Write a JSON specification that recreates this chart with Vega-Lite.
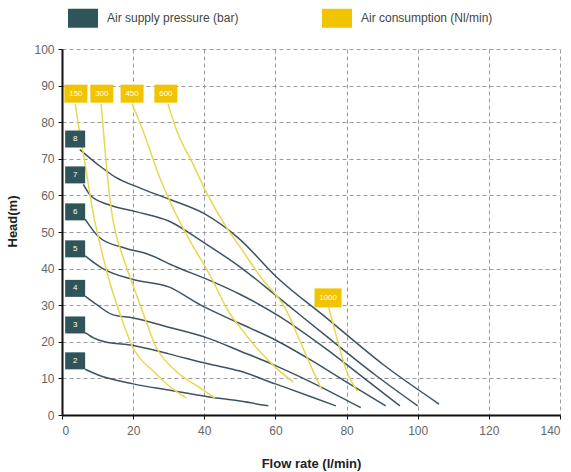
{
  "$schema": "https://vega.github.io/schema/vega-lite/v6.json",
  "width": 498,
  "height": 366,
  "autosize": {"type": "none"},
  "padding": {"left": 62, "top": 49, "right": 11, "bottom": 57},
  "background": "white",
  "config": {
    "font": "Liberation Sans",
    "view": {"stroke": null},
    "axis": {
      "gridColor": "#9a9aa2",
      "gridDash": [4, 3],
      "gridWidth": 1,
      "domainColor": "#111",
      "domainWidth": 2,
      "tickColor": "#111",
      "tickSize": 4,
      "labelColor": "#666",
      "labelFontSize": 12,
      "labelOverlap": false,
      "titleColor": "#222",
      "titleFontSize": 13,
      "titleFontWeight": "bold"
    }
  },
  "datasets": {
    "lines": [
      {"s": "P8", "t": "p", "x": 5, "y": 72.5}, {"s": "P8", "t": "p", "x": 10, "y": 68.5}, {"s": "P8", "t": "p", "x": 15, "y": 65}, {"s": "P8", "t": "p", "x": 22, "y": 62}, {"s": "P8", "t": "p", "x": 30, "y": 59}, {"s": "P8", "t": "p", "x": 40, "y": 55}, {"s": "P8", "t": "p", "x": 50, "y": 48}, {"s": "P8", "t": "p", "x": 60, "y": 38}, {"s": "P8", "t": "p", "x": 75, "y": 26}, {"s": "P8", "t": "p", "x": 90, "y": 14}, {"s": "P8", "t": "p", "x": 106, "y": 3},
      {"s": "P7", "t": "p", "x": 6, "y": 63}, {"s": "P7", "t": "p", "x": 8, "y": 60}, {"s": "P7", "t": "p", "x": 13, "y": 57.5}, {"s": "P7", "t": "p", "x": 21, "y": 55.5}, {"s": "P7", "t": "p", "x": 30, "y": 53}, {"s": "P7", "t": "p", "x": 40, "y": 47}, {"s": "P7", "t": "p", "x": 50, "y": 40.5}, {"s": "P7", "t": "p", "x": 61, "y": 32}, {"s": "P7", "t": "p", "x": 75, "y": 21}, {"s": "P7", "t": "p", "x": 88, "y": 11}, {"s": "P7", "t": "p", "x": 100, "y": 2.5},
      {"s": "P6", "t": "p", "x": 6.5, "y": 53.5}, {"s": "P6", "t": "p", "x": 10.5, "y": 48.5}, {"s": "P6", "t": "p", "x": 18, "y": 45.5}, {"s": "P6", "t": "p", "x": 24, "y": 44}, {"s": "P6", "t": "p", "x": 32, "y": 40.5}, {"s": "P6", "t": "p", "x": 41, "y": 37}, {"s": "P6", "t": "p", "x": 50, "y": 33}, {"s": "P6", "t": "p", "x": 61, "y": 27}, {"s": "P6", "t": "p", "x": 75, "y": 17.5}, {"s": "P6", "t": "p", "x": 85, "y": 10}, {"s": "P6", "t": "p", "x": 95, "y": 2.5},
      {"s": "P5", "t": "p", "x": 6.5, "y": 43.5}, {"s": "P5", "t": "p", "x": 11.5, "y": 40}, {"s": "P5", "t": "p", "x": 20, "y": 37}, {"s": "P5", "t": "p", "x": 30, "y": 35}, {"s": "P5", "t": "p", "x": 39, "y": 30}, {"s": "P5", "t": "p", "x": 50, "y": 25}, {"s": "P5", "t": "p", "x": 60, "y": 20.5}, {"s": "P5", "t": "p", "x": 70, "y": 15}, {"s": "P5", "t": "p", "x": 80, "y": 9}, {"s": "P5", "t": "p", "x": 91, "y": 2.5},
      {"s": "P4", "t": "p", "x": 6.5, "y": 32.5}, {"s": "P4", "t": "p", "x": 10, "y": 30}, {"s": "P4", "t": "p", "x": 14, "y": 27.5}, {"s": "P4", "t": "p", "x": 20, "y": 26.5}, {"s": "P4", "t": "p", "x": 30, "y": 24}, {"s": "P4", "t": "p", "x": 41, "y": 21}, {"s": "P4", "t": "p", "x": 50, "y": 17.5}, {"s": "P4", "t": "p", "x": 60, "y": 13.5}, {"s": "P4", "t": "p", "x": 70, "y": 9}, {"s": "P4", "t": "p", "x": 84, "y": 2},
      {"s": "P3", "t": "p", "x": 6.5, "y": 22.5}, {"s": "P3", "t": "p", "x": 9, "y": 21}, {"s": "P3", "t": "p", "x": 12, "y": 20}, {"s": "P3", "t": "p", "x": 20, "y": 19}, {"s": "P3", "t": "p", "x": 30, "y": 16.7}, {"s": "P3", "t": "p", "x": 41, "y": 14}, {"s": "P3", "t": "p", "x": 50, "y": 12}, {"s": "P3", "t": "p", "x": 60, "y": 8.5}, {"s": "P3", "t": "p", "x": 70, "y": 5}, {"s": "P3", "t": "p", "x": 77, "y": 2.5},
      {"s": "P2", "t": "p", "x": 6.5, "y": 12.5}, {"s": "P2", "t": "p", "x": 10, "y": 11}, {"s": "P2", "t": "p", "x": 20, "y": 8.5}, {"s": "P2", "t": "p", "x": 30, "y": 6.8}, {"s": "P2", "t": "p", "x": 41, "y": 5}, {"s": "P2", "t": "p", "x": 50, "y": 3.8}, {"s": "P2", "t": "p", "x": 58, "y": 2.5},
      {"s": "A150", "t": "a", "x": 3.7, "y": 85}, {"s": "A150", "t": "a", "x": 4.5, "y": 80}, {"s": "A150", "t": "a", "x": 6.5, "y": 68.5}, {"s": "A150", "t": "a", "x": 8.8, "y": 55}, {"s": "A150", "t": "a", "x": 11.6, "y": 43}, {"s": "A150", "t": "a", "x": 13.5, "y": 36}, {"s": "A150", "t": "a", "x": 16.3, "y": 27.6}, {"s": "A150", "t": "a", "x": 20, "y": 18.3}, {"s": "A150", "t": "a", "x": 25.6, "y": 12}, {"s": "A150", "t": "a", "x": 30, "y": 8}, {"s": "A150", "t": "a", "x": 35, "y": 4.6},
      {"s": "A300", "t": "a", "x": 11, "y": 85}, {"s": "A300", "t": "a", "x": 12.3, "y": 70}, {"s": "A300", "t": "a", "x": 13.8, "y": 56.6}, {"s": "A300", "t": "a", "x": 17.2, "y": 43}, {"s": "A300", "t": "a", "x": 19, "y": 38}, {"s": "A300", "t": "a", "x": 22, "y": 30}, {"s": "A300", "t": "a", "x": 26.6, "y": 18.3}, {"s": "A300", "t": "a", "x": 32, "y": 12}, {"s": "A300", "t": "a", "x": 38.8, "y": 7.4}, {"s": "A300", "t": "a", "x": 43, "y": 4.6},
      {"s": "A450", "t": "a", "x": 19.7, "y": 85}, {"s": "A450", "t": "a", "x": 22.8, "y": 77.6}, {"s": "A450", "t": "a", "x": 27.5, "y": 64.8}, {"s": "A450", "t": "a", "x": 31.2, "y": 56.6}, {"s": "A450", "t": "a", "x": 36, "y": 47.5}, {"s": "A450", "t": "a", "x": 41, "y": 39.3}, {"s": "A450", "t": "a", "x": 47, "y": 28}, {"s": "A450", "t": "a", "x": 50, "y": 24}, {"s": "A450", "t": "a", "x": 55, "y": 18}, {"s": "A450", "t": "a", "x": 60, "y": 13}, {"s": "A450", "t": "a", "x": 65, "y": 9},
      {"s": "A600", "t": "a", "x": 29.8, "y": 85}, {"s": "A600", "t": "a", "x": 32.3, "y": 77.6}, {"s": "A600", "t": "a", "x": 36.8, "y": 68.6}, {"s": "A600", "t": "a", "x": 40.8, "y": 60.4}, {"s": "A600", "t": "a", "x": 46.4, "y": 51}, {"s": "A600", "t": "a", "x": 50, "y": 46}, {"s": "A600", "t": "a", "x": 55.6, "y": 38}, {"s": "A600", "t": "a", "x": 63.2, "y": 28.4}, {"s": "A600", "t": "a", "x": 67, "y": 20}, {"s": "A600", "t": "a", "x": 70.6, "y": 12}, {"s": "A600", "t": "a", "x": 73, "y": 7},
      {"s": "A1000", "t": "a", "x": 74.8, "y": 30}, {"s": "A1000", "t": "a", "x": 77, "y": 22}, {"s": "A1000", "t": "a", "x": 80, "y": 12}, {"s": "A1000", "t": "a", "x": 83, "y": 6.5}
    ],
    "boxes": [
      {"legend": "Air supply pressure (bar)", "kind": "p", "label": "8", "x": 3.7, "y": 75.4},
      {"legend": "Air supply pressure (bar)", "kind": "p", "label": "7", "x": 3.7, "y": 65.6},
      {"legend": "Air supply pressure (bar)", "kind": "p", "label": "6", "x": 3.7, "y": 55.5},
      {"legend": "Air supply pressure (bar)", "kind": "p", "label": "5", "x": 3.7, "y": 45.4},
      {"legend": "Air supply pressure (bar)", "kind": "p", "label": "4", "x": 3.7, "y": 34.6},
      {"legend": "Air supply pressure (bar)", "kind": "p", "label": "3", "x": 3.7, "y": 24.6},
      {"legend": "Air supply pressure (bar)", "kind": "p", "label": "2", "x": 3.7, "y": 14.8},
      {"legend": "Air consumption (Nl/min)", "kind": "a", "label": "150", "x": 3.9, "y": 87.8},
      {"legend": "Air consumption (Nl/min)", "kind": "a", "label": "300", "x": 11.2, "y": 87.8},
      {"legend": "Air consumption (Nl/min)", "kind": "a", "label": "450", "x": 19.7, "y": 87.8},
      {"legend": "Air consumption (Nl/min)", "kind": "a", "label": "600", "x": 29.2, "y": 87.8},
      {"legend": "Air consumption (Nl/min)", "kind": "a4", "label": "1000", "x": 74.8, "y": 32}
    ]
  },
  "encoding": {
    "x": {"field": "x", "type": "quantitative", "scale": {"domain": [0, 140], "nice": false, "zero": false},
      "axis": {"values": [0, 20, 40, 60, 80, 100, 120, 140], "title": "Flow rate (l/min)", "labelPadding": 6, "titleY": 42, "titleBaseline": "top"}},
    "y": {"field": "y", "type": "quantitative", "scale": {"domain": [0, 100], "nice": false},
      "axis": {"values": [0, 10, 20, 30, 40, 50, 60, 70, 80, 90, 100], "title": "Head(m)", "labelPadding": 4, "titleX": -50, "titleY": 172, "titleBaseline": "middle"}}
  },
  "layer": [
    {
      "data": {"name": "lines"},
      "mark": {"type": "line", "interpolate": "monotone", "strokeWidth": 1.5},
      "encoding": {
        "detail": {"field": "s"},
        "stroke": {"field": "t", "type": "nominal", "scale": {"domain": ["p", "a"], "range": ["#3d5361", "#e8d850"]}, "legend": null}
      }
    },
    {
      "data": {"name": "boxes"},
      "mark": {"type": "point", "filled": true, "opacity": 1, "strokeWidth": 0},
      "encoding": {
        "size": {"value": 400},
        "shape": {"field": "kind", "type": "nominal", "scale": {"domain": ["p", "a", "a4"], "range": ["M-1,-0.85H1V0.85H-1Z", "M-1.15,-0.9H1.15V0.9H-1.15Z", "M-1.35,-0.95H1.35V0.95H-1.35Z"]}, "legend": null},
        "fill": {"field": "legend", "type": "nominal",
          "scale": {"domain": ["Air supply pressure (bar)", "Air consumption (Nl/min)"], "range": ["#2f5459", "#f0c400"]},
          "legend": {"title": null, "orient": "none", "legendX": 11, "legendY": -41, "direction": "horizontal",
            "symbolType": "M-1.5,-0.95H1.5V0.95H-1.5Z", "symbolSize": 400, "symbolOpacity": 1, "symbolStrokeWidth": 0,
            "labelFontSize": 12, "labelOffset": 14, "columnPadding": 83, "labelColor": "#444", "labelLimit": 300}}
      }
    },
    {
      "data": {"name": "boxes"},
      "mark": {"type": "text", "color": "white", "fontSize": 8, "align": "center", "baseline": "middle"},
      "encoding": {
        "text": {"field": "label"}
      }
    }
  ]
}
